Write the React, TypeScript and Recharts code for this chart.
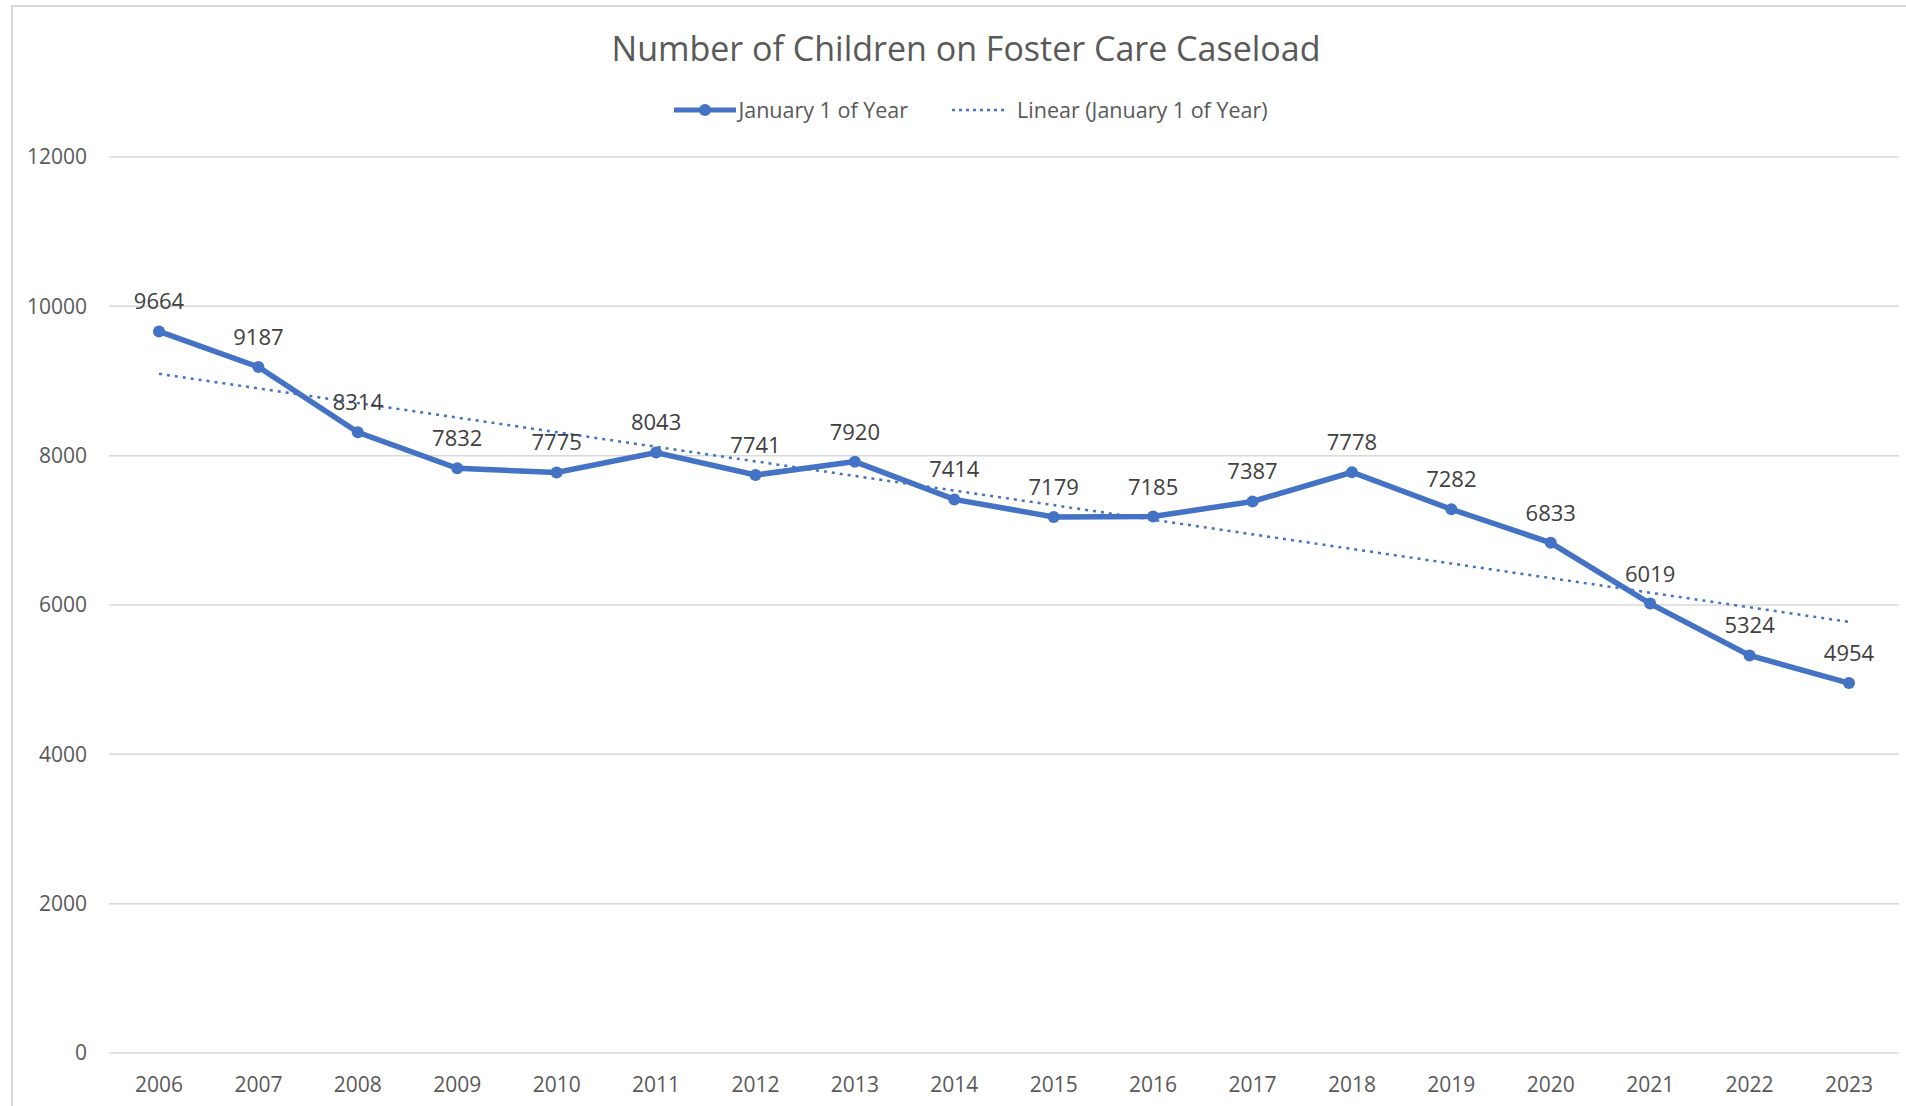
import { LineChart, Line, XAxis, YAxis, CartesianGrid, Legend, LabelList } from 'recharts';

const years = ['2006', '2007', '2008', '2009', '2010', '2011', '2012', '2013', '2014', '2015', '2016', '2017', '2018', '2019', '2020', '2021', '2022', '2023'];
const caseload = [9664, 9187, 8314, 7832, 7775, 8043, 7741, 7920, 7414, 7179, 7185, 7387, 7778, 7282, 6833, 6019, 5324, 4954];
// linear trendline, only the two end values
const trend = [9096, null, null, null, null, null, null, null, null, null, null, null, null, null, null, null, null, 5774];
const yTicks = [0, 2000, 4000, 6000, 8000, 10000, 12000];

const data = years.map((year, i) => ({ year, caseload: caseload[i], trend: trend[i] }));

const BLUE = '#4472C4';
const FONT = '"Open Sans", sans-serif';

const LegendBox = () => (
    <div style={{ display: 'flex', justifyContent: 'center', alignItems: 'center', fontFamily: FONT, fontSize: 21.5, color: '#595959' }}>
        <svg width={62} height={16} style={{ marginRight: 2 }}>
            <line x1={0} y1={8} x2={62} y2={8} stroke={BLUE} strokeWidth={5} />
            <circle cx={31} cy={8} r={6} fill={BLUE} />
        </svg>
        <span>January 1 of Year</span>
        <svg width={56} height={16} style={{ marginLeft: 44, marginRight: 9 }}>
            <line x1={0} y1={8} x2={56} y2={8} stroke={BLUE} strokeWidth={2.5} strokeDasharray="3 4" />
        </svg>
        <span>Linear (January 1 of Year)</span>
    </div>
);

const App = () => {
    return (
        <div style={{ position: 'absolute', left: 0, top: 0, width: 1906, height: 1106, background: '#fff', overflow: 'hidden' }}>
            <div style={{ position: 'absolute', left: 11, top: 5, width: 1920, height: 1120, border: '2px solid #d9d9d9' }} />
            <div style={{ position: 'absolute', left: 466, top: 25, width: 1000, textAlign: 'center', fontFamily: FONT, fontSize: 34, color: '#595959' }}>
                Number of Children on Foster Care Caseload
            </div>
            <LineChart width={1906} height={1106} data={data} margin={{ top: 157, right: 7, bottom: 8, left: 0 }} style={{ position: 'absolute', left: 0, top: 0 }}>
                <CartesianGrid vertical={false} stroke="#d9d9d9" strokeWidth={1.5} />
                <XAxis dataKey="year" axisLine={false} tickLine={false} tickSize={0} tickMargin={24} height={45}
                    padding={{ left: 50, right: 50 }} tick={{ fill: '#595959', fontSize: 21, fontFamily: FONT }} />
                <YAxis domain={[0, 12000]} ticks={yTicks} axisLine={false} tickLine={false} tickSize={0} tickMargin={22} width={109}
                    tick={{ fill: '#595959', fontSize: 21, fontFamily: FONT }} />
                <Legend layout="horizontal" verticalAlign="middle" align="center" wrapperStyle={{ top: 95, left: 18, width: 1906 }} content={() => <LegendBox />} />
                <Line type="linear" dataKey="caseload" name="January 1 of Year" stroke={BLUE} strokeWidth={5.5}
                    dot={{ r: 6, fill: BLUE, stroke: BLUE, strokeWidth: 0 }} isAnimationActive={false}>
                    <LabelList dataKey="caseload" position="top" offset={22} fill="#404040" fontSize={22} fontFamily={FONT} />
                </Line>
                <Line type="linear" dataKey="trend" name="Linear (January 1 of Year)" stroke={BLUE} strokeWidth={2.5} strokeDasharray="3 5"
                    connectNulls dot={false} activeDot={false} isAnimationActive={false} />
            </LineChart>
        </div>
    );
};

export default App;
